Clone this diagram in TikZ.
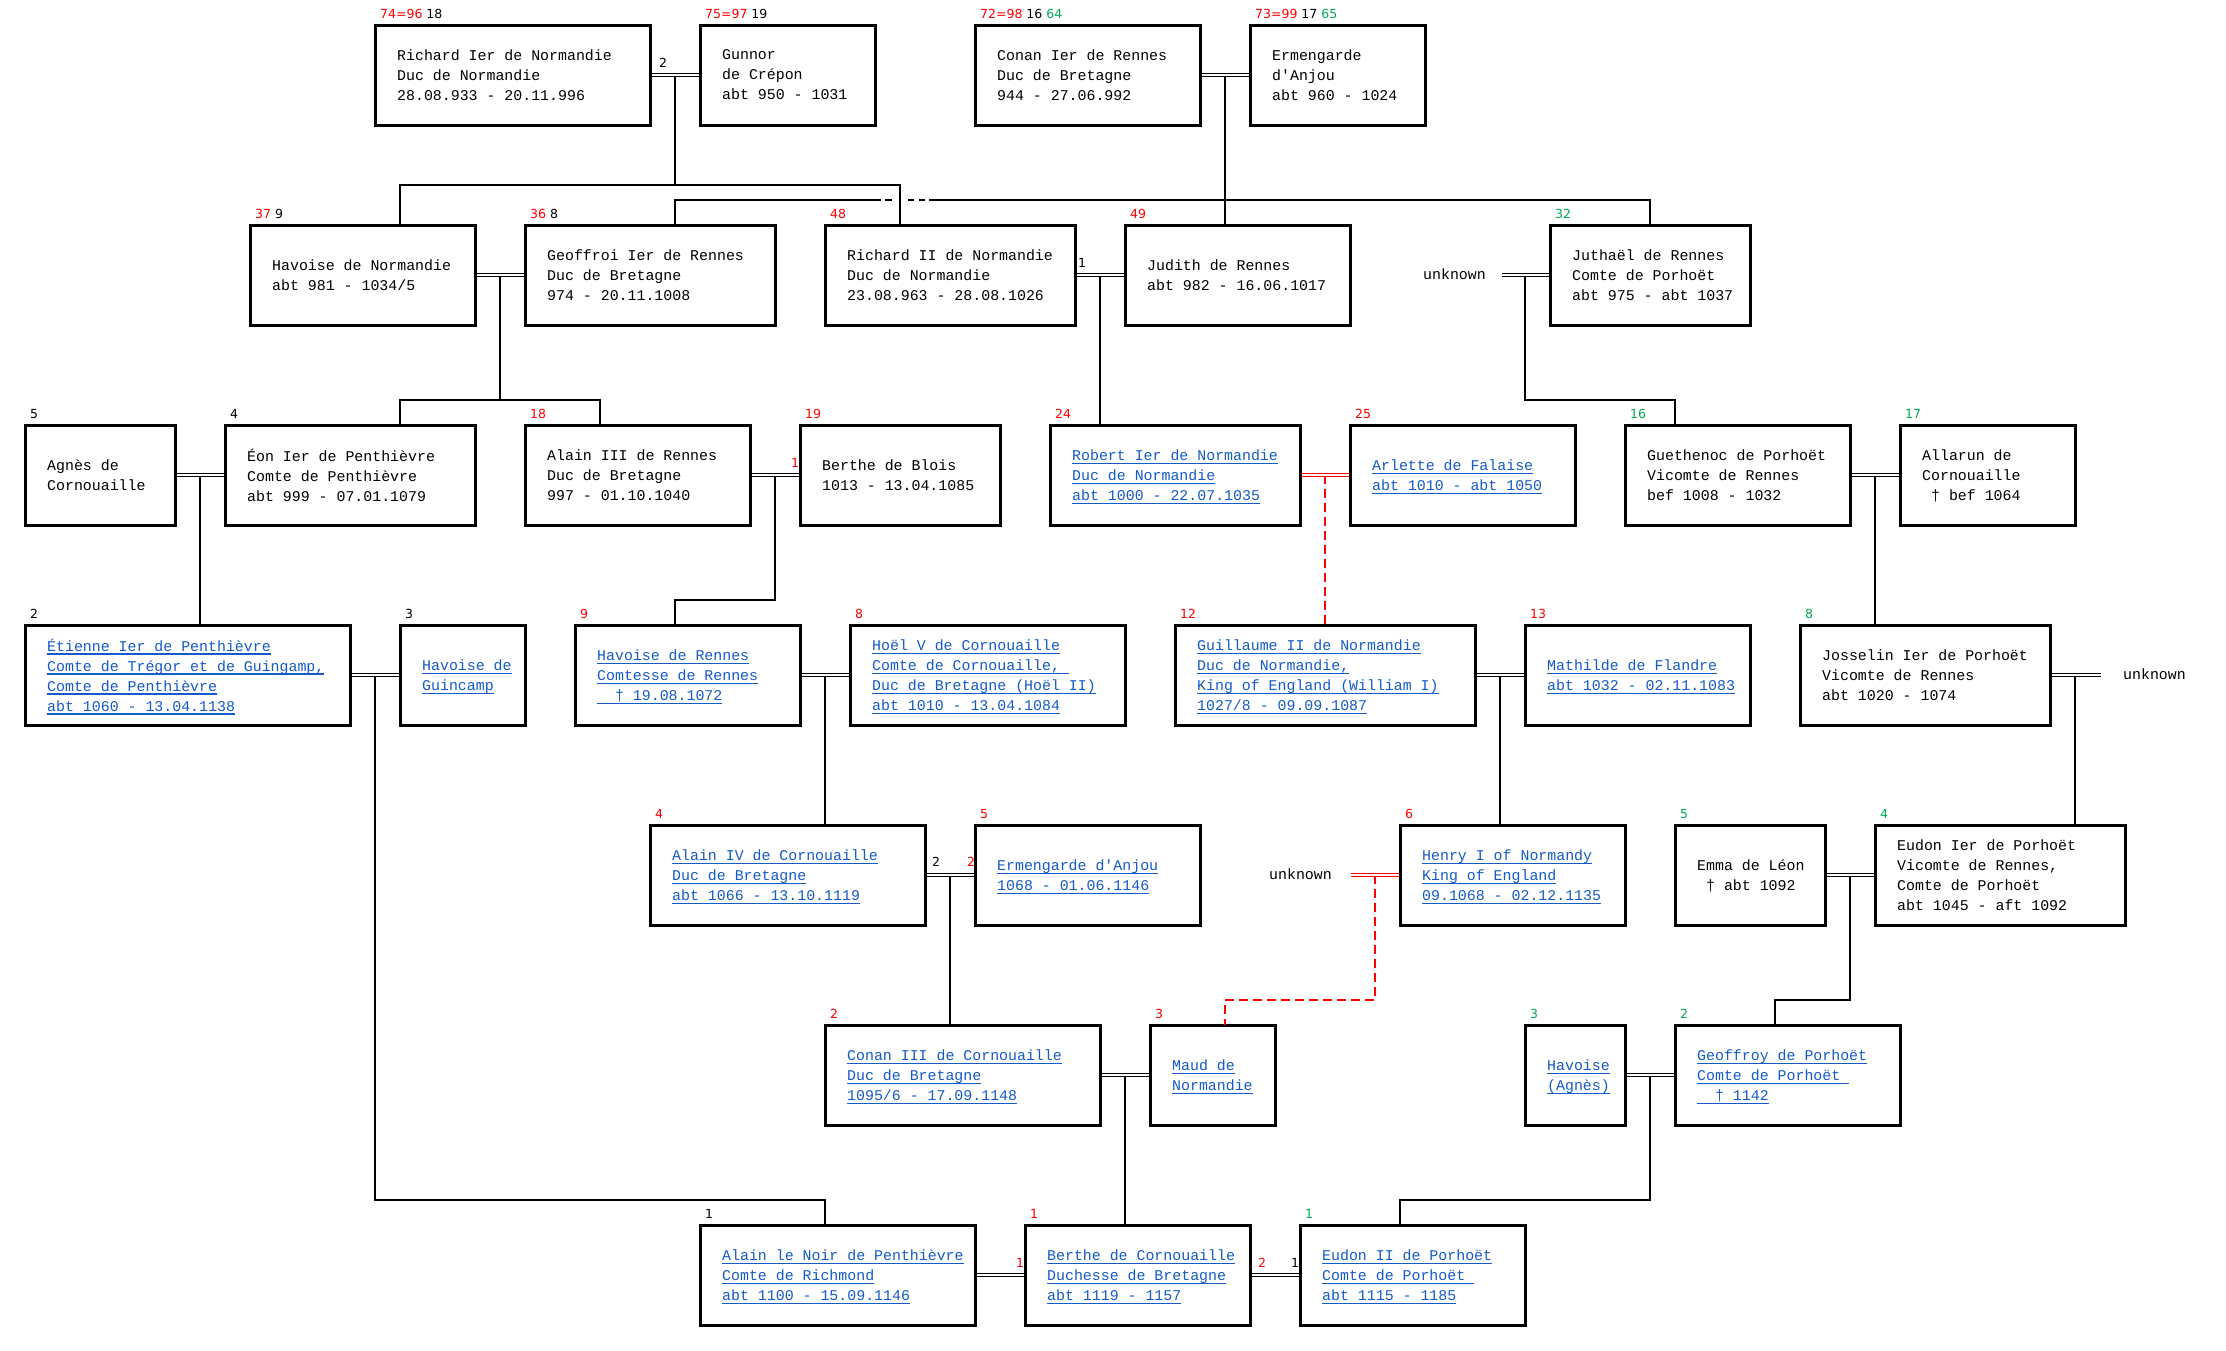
\documentclass[tikz,border=0pt]{standalone}
\usepackage{fontspec}
\setmonofont{Liberation Mono}[WordSpace={1,0,0}]
\newfontfamily\labf{DejaVu Sans}
\usetikzlibrary{calc}
\definecolor{lnk}{RGB}{20,90,200}
\definecolor{nred}{RGB}{255,0,0}
\definecolor{ngreen}{RGB}{0,170,80}
\newcommand\ul[1]{\setbox0=\hbox{#1}\rlap{\textcolor{lnk}{\rule[-3.4pt]{\wd0}{1.3pt}}}\box0}
\newcommand\rd[1]{\textcolor{nred}{#1}}
\newcommand\gr[1]{\textcolor{ngreen}{#1}}
\newcommand\pers[7]{%
  \node[pbox, minimum width={#3-#2}] (#1) at ({(#2+#3)/2},{#4+50}) {};
  \node[ptext, #7, anchor=west] (#1-t) at ([xshift=22pt,yshift=-3pt]#1.west) {#6};
  \node[plab, anchor=west] (#1-l) at ([xshift=5pt,yshift=11pt]#1.north west) {#5};
}
\begin{document}
\begin{tikzpicture}[x=1pt,y=-1pt,
  pbox/.style={draw, line width=3pt, minimum height=100pt, inner sep=0pt, outer sep=0pt, fill=white},
  ptext/.style={font=\ttfamily\fontsize{14.9}{20}\selectfont\frenchspacing, align=left, inner sep=0pt,
     execute at begin node=\strut, execute at end node=\strut},
  lk/.style={text=lnk},
  plab/.style={font=\labf\fontsize{12.5}{14}\selectfont, inner sep=0pt},
  conn/.style={line width=1.5pt},
  couple/.style={line width=1.1pt, double=white, double distance=2.4pt, shorten <=1.5pt, shorten >=1.5pt},
  rcouple/.style={couple, draw=nred},
  rdash/.style={line width=1.5pt, draw=nred, dash pattern=on 9pt off 5pt}]
\fill[white] (0,0) rectangle (2226,1350);
\useasboundingbox (0,0) rectangle (2226,1350);

% row 1
\pers{richard}{375}{650}{25}{\rd{74=96} 18}{Richard Ier de Normandie\\Duc de Normandie\\28.08.933 - 20.11.996}{}
\pers{gunnor}{700}{875}{25}{\rd{75=97} 19}{Gunnor\\de Crépon\\abt 950 - 1031}{}
\pers{conan}{975}{1200}{25}{\rd{72=98} 16 \gr{64}}{Conan Ier de Rennes\\Duc de Bretagne\\944 - 27.06.992}{}
\pers{ermA}{1250}{1425}{25}{\rd{73=99} 17 \gr{65}}{Ermengarde\\d'Anjou\\abt 960 - 1024}{}
% row 2
\pers{havN}{250}{475}{225}{\rd{37} 9}{Havoise de Normandie\\abt 981 - 1034/5}{}
\pers{geoffroi}{525}{775}{225}{\rd{36} 8}{Geoffroi Ier de Rennes\\Duc de Bretagne\\974 - 20.11.1008}{}
\pers{richardII}{825}{1075}{225}{\rd{48}}{Richard II de Normandie\\Duc de Normandie\\23.08.963 - 28.08.1026}{}
\pers{judith}{1125}{1350}{225}{\rd{49}}{Judith de Rennes\\abt 982 - 16.06.1017}{}
\pers{juthael}{1550}{1750}{225}{\gr{32}}{Juthaël de Rennes\\Comte de Porhoët\\abt 975 - abt 1037}{}
% row 3
\pers{agnes}{25}{175}{425}{5}{Agnès de\\Cornouaille}{}
\pers{eon}{225}{475}{425}{4}{Éon Ier de Penthièvre\\Comte de Penthièvre\\abt 999 - 07.01.1079}{}
\pers{alainIII}{525}{750}{425}{\rd{18}}{Alain III de Rennes\\Duc de Bretagne\\997 - 01.10.1040}{}
\pers{bertheB}{800}{1000}{425}{\rd{19}}{Berthe de Blois\\1013 - 13.04.1085}{}
\pers{robert}{1050}{1300}{425}{\rd{24}}{\ul{Robert Ier de Normandie}\\\ul{Duc de Normandie}\\\ul{abt 1000 - 22.07.1035}}{lk}
\pers{arlette}{1350}{1575}{425}{\rd{25}}{\ul{Arlette de Falaise}\\\ul{abt 1010 - abt 1050}}{lk}
\pers{guethenoc}{1625}{1850}{425}{\gr{16}}{Guethenoc de Porhoët\\Vicomte de Rennes\\bef 1008 - 1032}{}
\pers{allarun}{1900}{2075}{425}{\gr{17}}{Allarun de\\Cornouaille\\\hphantom{x}† bef 1064}{}
% row 4
\pers{etienne}{25}{350}{625}{2}{\ul{Étienne Ier de Penthièvre}\\\ul{Comte de Trégor et de Guingamp,}\\\ul{Comte de Penthièvre}\\\ul{abt 1060 - 13.04.1138}}{lk}
\pers{havG}{400}{525}{625}{3}{\ul{Havoise de}\\\ul{Guincamp}}{lk}
\pers{havR}{575}{800}{625}{\rd{9}}{\ul{Havoise de Rennes}\\\ul{Comtesse de Rennes}\\\ul{\ \ † 19.08.1072}}{lk}
\pers{hoel}{850}{1125}{625}{\rd{8}}{\ul{Hoël V de Cornouaille}\\\ul{Comte de Cornouaille,\ }\\\ul{Duc de Bretagne (Hoël II)}\\\ul{abt 1010 - 13.04.1084}}{lk}
\pers{guillaume}{1175}{1475}{625}{\rd{12}}{\ul{Guillaume II de Normandie}\\\ul{Duc de Normandie,}\\\ul{King of England (William I)}\\\ul{1027/8 - 09.09.1087}}{lk}
\pers{mathilde}{1525}{1750}{625}{\rd{13}}{\ul{Mathilde de Flandre}\\\ul{abt 1032 - 02.11.1083}}{lk}
\pers{josselin}{1800}{2050}{625}{\gr{8}}{Josselin Ier de Porhoët\\Vicomte de Rennes\\abt 1020 - 1074}{}
% row 5
\pers{alainIV}{650}{925}{825}{\rd{4}}{\ul{Alain IV de Cornouaille}\\\ul{Duc de Bretagne}\\\ul{abt 1066 - 13.10.1119}}{lk}
\pers{ermB}{975}{1200}{825}{\rd{5}}{\ul{Ermengarde d'Anjou}\\\ul{1068 - 01.06.1146}}{lk}
\pers{henry}{1400}{1625}{825}{\rd{6}}{\ul{Henry I of Normandy}\\\ul{King of England}\\\ul{09.1068 - 02.12.1135}}{lk}
\pers{emma}{1675}{1825}{825}{\gr{5}}{Emma de Léon\\\hphantom{x}† abt 1092}{}
\pers{eudonI}{1875}{2125}{825}{\gr{4}}{Eudon Ier de Porhoët\\Vicomte de Rennes,\\Comte de Porhoët\\abt 1045 - aft 1092}{}
% row 6
\pers{conanIII}{825}{1100}{1025}{\rd{2}}{\ul{Conan III de Cornouaille}\\\ul{Duc de Bretagne}\\\ul{1095/6 - 17.09.1148}}{lk}
\pers{maud}{1150}{1275}{1025}{\rd{3}}{\ul{Maud de}\\\ul{Normandie}}{lk}
\pers{havA}{1525}{1625}{1025}{\gr{3}}{\ul{Havoise}\\\ul{(Agnès)}}{lk}
\pers{geoffroy}{1675}{1900}{1025}{\gr{2}}{\ul{Geoffroy de Porhoët}\\\ul{Comte de Porhoët\ }\\\ul{\ \ † 1142}}{lk}
% row 7
\pers{alainN}{700}{975}{1225}{1}{\ul{Alain le Noir de Penthièvre}\\\ul{Comte de Richmond}\\\ul{abt 1100 - 15.09.1146}}{lk}
\pers{bertheC}{1025}{1250}{1225}{\rd{1}}{\ul{Berthe de Cornouaille}\\\ul{Duchesse de Bretagne}\\\ul{abt 1119 - 1157}}{lk}
\pers{eudonII}{1300}{1525}{1225}{\gr{1}}{\ul{Eudon II de Porhoët}\\\ul{Comte de Porhoët\ }\\\ul{abt 1115 - 1185}}{lk}

% unknown partners
\node[ptext, anchor=west, execute at begin node={}, execute at end node={}] (unk1) at (1423,275) {unknown};
\node[ptext, anchor=west, execute at begin node={}, execute at end node={}] (unk2) at (2123,675) {unknown};
\node[ptext, anchor=west, execute at begin node={}, execute at end node={}] (unk3) at (1269,875) {unknown};

% couple midpoints
\coordinate (m1) at ($(richard.east)!.5!(gunnor.west)$);
\coordinate (m2) at ($(conan.east)!.5!(ermA.west)$);
\coordinate (m3) at ($(havN.east)!.5!(geoffroi.west)$);
\coordinate (m4) at ($(richardII.east)!.5!(judith.west)$);
\coordinate (m5) at (1525,275);
\coordinate (m6) at ($(agnes.east)!.5!(eon.west)$);
\coordinate (m7) at ($(alainIII.east)!.5!(bertheB.west)$);
\coordinate (m8) at ($(robert.east)!.5!(arlette.west)$);
\coordinate (m9) at ($(guethenoc.east)!.5!(allarun.west)$);
\coordinate (m10) at ($(etienne.east)!.5!(havG.west)$);
\coordinate (m11) at ($(havR.east)!.5!(hoel.west)$);
\coordinate (m12) at ($(guillaume.east)!.5!(mathilde.west)$);
\coordinate (m13) at (2075,675);
\coordinate (m14) at ($(alainIV.east)!.5!(ermB.west)$);
\coordinate (m15) at (1375,875);
\coordinate (m16) at ($(emma.east)!.5!(eudonI.west)$);
\coordinate (m17) at ($(conanIII.east)!.5!(maud.west)$);
\coordinate (m18) at ($(havA.east)!.5!(geoffroy.west)$);

% descent lines
\draw[conn] (m1) -- (m1 |- 0,185);
\draw[conn] (havN.north -| 400,0) -- (400,185) -- (900,185) -- (richardII.north -| 900,0);
\draw[conn] (m2) -- (judith.north -| m2);
\draw[conn] (geoffroi.north -| 675,0) -- (675,200) -- (881,200);
\draw[conn] (885,200) -- (892,200) (908,200) -- (914,200) (919,200) -- (925,200);
\draw[conn] (929,200) -- (1650,200) -- (juthael.north);
\draw[conn] (m3) -- (m3 |- 0,400);
\draw[conn] (eon.north -| 400,0) -- (400,400) -- (600,400) -- (alainIII.north -| 600,0);
\draw[conn] (m4) -- (robert.north -| m4);
\draw[conn] (m5) -- (1525,400) -- (1675,400) -- (guethenoc.north -| 1675,0);
\draw[conn] (m6) -- (etienne.north -| m6);
\draw[conn] (m7) -- (m7 |- 0,600) -- (675,600) -- (havR.north -| 675,0);
\draw[rdash] (m8) -- (guillaume.north -| m8);
\draw[conn] (m9) -- (josselin.north -| m9);
\draw[conn] (m10) -- (m10 |- 0,1200) -- (825,1200) -- (alainN.north -| 825,0);
\draw[conn] (m11) -- (alainIV.north -| m11);
\draw[conn] (m12) -- (henry.north -| m12);
\draw[conn] (m13) -- (eudonI.north -| m13);
\draw[conn] (m14) -- (conanIII.north -| m14);
\draw[rdash] (m15) -- (1375,1000) -- (1225,1000) -- (maud.north -| 1225,0);
\draw[conn] (m16) -- (1850,1000) -- (1775,1000) -- (geoffroy.north -| 1775,0);
\draw[conn] (m17) -- (bertheC.north -| m17);
\draw[conn] (m18) -- (1650,1200) -- (1400,1200) -- (eudonII.north -| 1400,0);

% couple lines
\draw[couple] (richard.east) -- (gunnor.west);
\draw[couple] (conan.east) -- (ermA.west);
\draw[couple] (havN.east) -- (geoffroi.west);
\draw[couple] (richardII.east) -- (judith.west);
\draw[couple] ([xshift=14pt]unk1.east) -- (juthael.west);
\draw[couple] (agnes.east) -- (eon.west);
\draw[couple] (alainIII.east) -- (bertheB.west);
\draw[rcouple] (robert.east) -- (arlette.west);
\draw[couple] (guethenoc.east) -- (allarun.west);
\draw[couple] (etienne.east) -- (havG.west);
\draw[couple] (havR.east) -- (hoel.west);
\draw[couple] (guillaume.east) -- (mathilde.west);
\draw[couple] (josselin.east) -- ([xshift=-21pt]unk2.west);
\draw[couple] (alainIV.east) -- (ermB.west);
\draw[rcouple] ([xshift=17pt]unk3.east) -- (henry.west);
\draw[couple] (emma.east) -- (eudonI.west);
\draw[couple] (conanIII.east) -- (maud.west);
\draw[couple] (havA.east) -- (geoffroy.west);
\draw[couple] (alainN.east) -- (bertheC.west);
\draw[couple] (bertheC.east) -- (eudonII.west);

% marriage numbers
\node[plab] (n1) at (663,63) {2};
\node[plab] (n2) at (1082,263) {1};
\node[plab, text=nred] (n3) at (795,463) {1};
\node[plab] (n4) at (936,862) {2};
\node[plab, text=nred] (n5) at (971,862) {2};
\node[plab, text=nred] (n6) at (1020,1263) {1};
\node[plab, text=nred] (n7) at (1262,1263) {2};
\node[plab] (n8) at (1295,1263) {1};
\end{tikzpicture}
\end{document}
